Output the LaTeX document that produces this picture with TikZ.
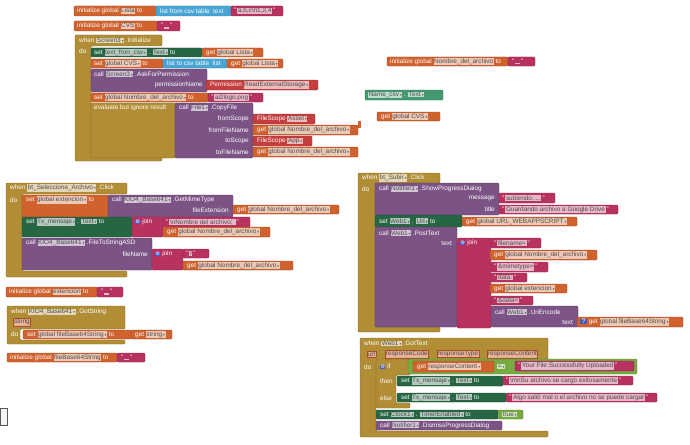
\documentclass[tikz,border=0pt]{standalone}
\usepackage{fontspec}
\setmainfont{Liberation Sans}
\newfontfamily\dvs{DejaVu Sans}
\definecolor{cvar}{HTML}{D0622E}
\definecolor{ctxt}{HTML}{B8325F}
\definecolor{clist}{HTML}{49A6D4}
\definecolor{cset}{HTML}{266643}
\definecolor{cget}{HTML}{439970}
\definecolor{ccall}{HTML}{7C5385}
\definecolor{cctl}{HTML}{B18E35}
\definecolor{chelp}{HTML}{C43E3E}
\definecolor{clog}{HTML}{77AB41}
\definecolor{cmut}{HTML}{3F5FC6}
\newcommand\cur{cvar}
\newcommand\blkfs{\fontsize{6.4}{7}\selectfont}
\newcommand\fd[1]{{\setlength\fboxsep{0.6pt}\colorbox{\cur!35!white}{\textcolor{black!70}{#1\,{\dvs\fontsize{3.5}{3.5}\selectfont▾}}}}}
\newcommand\fn[1]{{\setlength\fboxsep{0.6pt}\colorbox{\cur!35!white}{\textcolor{black!70}{#1}}}}
\newcommand\lit[1]{"\,\fn{#1}\,"}
\newcommand\prm[1]{{\setlength\fboxsep{0.6pt}\setlength\fboxrule{0.3pt}\fcolorbox{cvar!80!black}{cvar!50!white}{\textcolor{black!70}{#1}}}}
\newcommand\gear{{\setlength\fboxsep{0.4pt}\colorbox{cmut}{\textcolor{white}{\dvs\fontsize{5}{5}\selectfont ⚙}}}}
\newcommand\qmk{{\setlength\fboxsep{0.6pt}\colorbox{cmut}{\textcolor{white}{\,?\,}}}}
\newcounter{nd}
\newcommand\bx[5]{\filldraw[fill=#1,draw=#1!75!black,line width=0.35pt,rounded corners=1.2pt] (#2,#3) rectangle (#4,#5);}
\newcommand\cb[9]{\filldraw[fill=#1,draw=#1!75!black,line width=0.35pt,rounded corners=1.2pt] (#2,#3) -- (#4,#3) -- (#4,#5) -- (#6,#5) -- (#6,#7) -- (#8,#7) -- (#8,#9) -- (#2,#9) -- cycle;}
\newcommand\tx[4]{\stepcounter{nd}\node[anchor=west,inner sep=0pt,text=white,font=\blkfs] (t\arabic{nd}) at (#2,#3) {\renewcommand\cur{#1}#4};}
\newcommand\tr[4]{\stepcounter{nd}\node[anchor=east,inner sep=0pt,text=white,font=\blkfs] (t\arabic{nd}) at (#2,#3) {\renewcommand\cur{#1}#4};}
\begin{document}
\begin{tikzpicture}[x=1pt,y=-1pt]
\useasboundingbox[fill=white] (0,0) rectangle (690,444);
% init Lista
\bx{cvar}{74}{6}{156}{16}
\tx{cvar}{77}{11}{initialize global \fn{Lista} to}
\bx{clist}{156}{6}{231}{16}
\tx{clist}{160}{11}{list from csv table \ text}
\bx{ctxt}{231}{6}{283}{16}
\tx{ctxt}{234}{11}{\lit{a,b,c\textbackslash n1,2,4}}
% init CVS
\bx{cvar}{74}{21}{157}{31}
\tx{cvar}{77}{26}{initialize global \fn{CVS} to}
\bx{ctxt}{157}{21}{180}{31}
\tx{ctxt}{161}{26}{\lit{\ \ }}
% Screen3 Initialize
\cb{cctl}{75}{35}{162}{46}{91}{155}{162}{161}
\tx{cctl}{79}{40.5}{when \fd{Screen3} .Initialize}
\tx{cctl}{79}{51}{do}
\bx{cset}{91}{48}{202}{57}
\tx{cset}{94}{52.5}{set \fd{text\_fron\_csv} . \fd{Text} to}
\bx{cvar}{202}{48}{263}{57}
\tx{cvar}{206}{52.5}{get \fd{global Lista}}
\bx{cvar}{91}{59}{163}{68}
\tx{cvar}{94}{63.5}{set \fd{global CVS} to}
\bx{clist}{163}{59}{227}{68}
\tx{clist}{167}{63.5}{list to csv table \ list}
\bx{cvar}{227}{59}{283}{68}
\tx{cvar}{231}{63.5}{get \fd{global Lista}}
\bx{ccall}{91}{69}{207}{92}
\tx{ccall}{94}{74}{call \fd{Screen3} .AskForPermission}
\tr{ccall}{203}{85}{permissionName}
\bx{chelp}{206}{80}{318}{90}
\tx{chelp}{210}{85}{Permission \fd{ReadExternalStorage}}
\bx{cvar}{91}{93}{208}{102}
\tx{cvar}{94}{97.5}{set \fd{global Nombre\_del\_archivo} to}
\bx{ctxt}{208}{93}{263}{102}
\tx{ctxt}{211}{97.5}{\lit{ai2logo.png}}
\bx{cctl}{91}{103}{175}{158}
\tx{cctl}{94}{108}{evaluate but ignore result}
\bx{ccall}{175}{103}{253}{158}
\tx{ccall}{179}{108}{call \fd{File1} .CopyFile}
\tr{ccall}{249}{119}{fromScope}
\tr{ccall}{249}{130}{fromFileName}
\tr{ccall}{249}{141}{toScope}
\tr{ccall}{249}{152}{toFileName}
\bx{chelp}{253}{114}{315}{124}
\tx{chelp}{257}{119}{FileScope \fd{Asset}}
\bx{cvar}{253}{125}{358}{135}
\tx{cvar}{257}{130}{get \fd{global Nombre\_del\_archivo}}
\bx{chelp}{253}{136}{312}{146}
\tx{chelp}{257}{141}{FileScope \fd{App}}
\bx{cvar}{253}{147}{358}{157}
\tx{cvar}{257}{152}{get \fd{global Nombre\_del\_archivo}}
% right top
\bx{cvar}{387}{57}{508}{66}
\tx{cvar}{390}{61.5}{initialize global \fn{Nombre\_del\_archivo} to}
\bx{ctxt}{508}{57}{535}{66}
\tx{ctxt}{512}{61.5}{\lit{\ \ }}
\bx{cget}{365}{90}{443}{100}
\tx{cget}{368}{95}{\fd{Name\_csv} . \fd{Text}}
\bx{cvar}{377}{112}{440}{121}
\tx{cvar}{381}{116.5}{get \fd{global CVS}}
\fill[cvar] (358,121) rectangle (361,128);
% bt_Seleccione_Archivo
\cb{cctl}{6}{183}{127}{194}{22}{271}{127}{277}
\tx{cctl}{10}{188}{when \fd{bt\_Seleccione\_Archivo} .Click}
\tx{cctl}{10}{200}{do}
\bx{cvar}{22}{195}{108}{217}
\tx{cvar}{26}{200}{set \fd{global extencion} to}
\bx{ccall}{108}{195}{233}{217}
\tx{ccall}{112}{200}{call \fd{KIO4\_Base641} .GetMimeType}
\tr{ccall}{229}{210}{fileExtension}
\bx{cvar}{233}{205}{339}{214}
\tx{cvar}{237}{209.5}{get \fd{global Nombre\_del\_archivo}}
\bx{cset}{22}{217}{132}{237}
\tx{cset}{26}{222}{set \fd{Tx\_mensaje} . \fd{Text} to}
\bx{ctxt}{132}{217}{163}{237}
\tx{ctxt}{135}{222}{\gear\ join}
\bx{ctxt}{163}{217}{250}{227}
\tx{ctxt}{166}{222}{\lit{\textbackslash nNombre del archivo: }}
\bx{cvar}{163}{227}{270}{237}
\tx{cvar}{167}{232}{get \fd{global Nombre\_del\_archivo}}
\bx{ccall}{22}{238}{152}{270}
\tx{ccall}{26}{243}{call \fd{KIO4\_Base641} .FileToStringASD}
\tr{ccall}{148}{254}{fileName}
\bx{ctxt}{152}{249}{183}{270}
\tx{ctxt}{155}{254}{\gear\ join}
\bx{ctxt}{183}{249}{209}{258}
\tx{ctxt}{186}{253.5}{\lit{/}}
\bx{cvar}{183}{261}{293}{270}
\tx{cvar}{187}{265.5}{get \fd{global Nombre\_del\_archivo}}
% init extencion
\bx{cvar}{6}{287}{97}{297}
\tx{cvar}{9}{292}{initialize global \fn{extencion} to}
\bx{ctxt}{97}{287}{123}{297}
\tx{ctxt}{101}{292}{\lit{\ \ }}
% GotString
\cb{cctl}{7}{306}{125}{329}{20}{340}{125}{344}
\tx{cctl}{11}{312}{when \fd{KIO4\_Base641} .GotString}
\tx{cctl}{13}{322}{\prm{string}}
\tx{cctl}{11}{334.5}{do}
\bx{cvar}{23}{330}{131}{339}
\tx{cvar}{27}{334.5}{set \fd{global fileBase64String} to}
\bx{cvar}{131}{330}{172}{339}
\tx{cvar}{135}{334.5}{get \fd{string}}
% init fileBase64String
\bx{cvar}{7}{353}{117}{362}
\tx{cvar}{10}{357.5}{initialize global \fn{fileBase64String} to}
\bx{ctxt}{117}{353}{145}{362}
\tx{ctxt}{121}{357.5}{\lit{\ \ }}
% bt_Subir
\cb{cctl}{358}{173}{440}{183}{375}{327}{440}{332}
\tx{cctl}{362}{178}{when \fd{bt\_Subir} .Click}
\tx{cctl}{362}{189}{do}
\bx{ccall}{375}{183}{499}{215}
\tx{ccall}{379}{189}{call \fd{Notifier1} .ShowProgressDialog}
\tr{ccall}{495}{198}{message}
\tr{ccall}{495}{209.5}{title}
\bx{ctxt}{499}{193}{555}{203}
\tx{ctxt}{502}{198}{\lit{subiendo.....}}
\bx{ctxt}{499}{205}{618}{214}
\tx{ctxt}{502}{209.5}{\lit{Guardando archivo a Google Drive}}
\bx{cset}{375}{215}{462}{227}
\tx{cset}{379}{221}{set \fd{Web1} . \fd{Url} to}
\bx{cvar}{462}{217}{577}{226}
\tx{cvar}{466}{221.5}{get \fd{global URL\_WEBAPPSCRIPT}}
\bx{ccall}{375}{227}{457}{327}
\tx{ccall}{379}{233}{call \fd{Web1} .PostText}
\tr{ccall}{452}{243}{text}
\bx{ctxt}{457}{238}{491}{328}
\tx{ctxt}{460}{243}{\gear\ join}
\bx{ctxt}{491}{238}{541}{248}
\tx{ctxt}{494}{243}{\lit{filename=}}
\bx{cvar}{490}{250}{597}{260}
\tx{cvar}{494}{255}{get \fd{global Nombre\_del\_archivo}}
\bx{ctxt}{491}{262}{548}{272}
\tx{ctxt}{494}{267}{\lit{\&mimetype=}}
\bx{ctxt}{491}{273}{527}{282}
\tx{ctxt}{494}{277.5}{\lit{data:}}
\bx{cvar}{490}{284}{567}{293}
\tx{cvar}{494}{288.5}{get \fd{global extencion}}
\bx{ctxt}{491}{296}{533}{305}
\tx{ctxt}{494}{300.5}{\lit{\&data=}}
\bx{ccall}{491}{306}{578}{327}
\tx{ccall}{495}{312}{call \fd{Web1} .UriEncode}
\tr{ccall}{573}{322}{text}
\bx{cvar}{577}{317}{683}{327}
\tx{cvar}{580}{322}{\qmk\ get \fd{global fileBase64String}}
% GotText
\cb{cctl}{360}{338}{548}{360}{376}{431}{548}{437}
\tx{cctl}{364}{343.5}{when \fd{Web1} .GotText}
\tx{cctl}{367}{354}{\prm{url}}
\tx{cctl}{385}{354}{\prm{responseCode}}
\tx{cctl}{437}{354}{\prm{responseType}}
\tx{cctl}{487}{354}{\prm{responseContent}}
\tx{cctl}{364}{367}{do}
\cb{cctl}{376}{359}{410}{375}{396}{403}{410}{408}
\tx{cctl}{380}{366.5}{\gear\ if}
\tx{cctl}{380}{381}{then}
\tx{cctl}{380}{398}{else}
\bx{clog}{408}{359}{637}{374}
\bx{cvar}{413}{361}{494}{372}
\tx{cvar}{417}{366.5}{get \fd{responseContent}}
\tx{clog}{497}{366.5}{\fd{=}}
\bx{ctxt}{515}{361}{634}{371}
\tx{ctxt}{518}{366}{\lit{Your File Successfully Uploaded}}
\bx{cset}{397}{376}{503}{386}
\tx{cset}{401}{381}{set \fd{Tx\_mensaje} . \fd{Text} to}
\bx{ctxt}{503}{376}{633}{385}
\tx{ctxt}{506}{380.5}{\lit{\textbackslash n\textbackslash nSu archivo se cargo exitosamente}}
\bx{cset}{397}{393}{506}{402}
\tx{cset}{401}{397.5}{set \fd{Tx\_mensaje} . \fd{Text} to}
\bx{ctxt}{506}{393}{657}{402}
\tx{ctxt}{509}{397.5}{\lit{Algo salió mal o el archivo no se puede cargar}}
\bx{cset}{376}{410}{498}{419}
\tx{cset}{380}{414.5}{set \fd{Clock1} . \fd{TimerEnabled} to}
\bx{clog}{498}{410}{523}{419}
\tx{clog}{502}{414.5}{\fd{true}}
\bx{ccall}{376}{421}{502}{430}
\tx{ccall}{380}{425.5}{call \fd{Notifier1} .DismissProgressDialog}
% corner box
\filldraw[fill=gray!8,draw=gray!70!black,line width=0.6pt] (0.5,408) rectangle (7,425);
\end{tikzpicture}
\end{document}
